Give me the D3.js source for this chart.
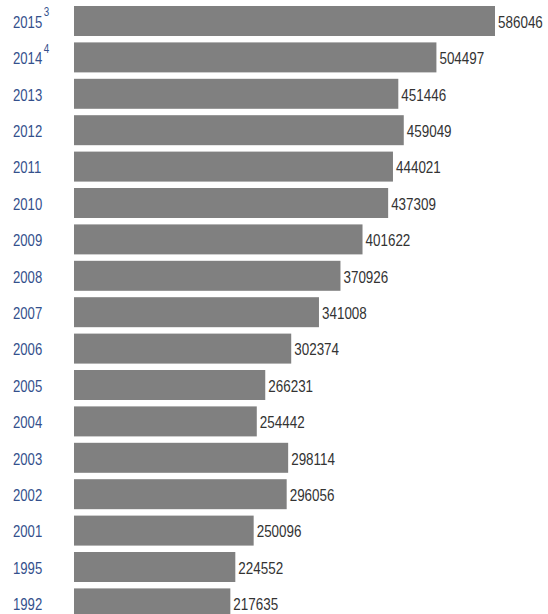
<!DOCTYPE html>
<html>
<head>
<meta charset="utf-8">
<script src="https://cdn.jsdelivr.net/npm/d3@7"></script>
<style>
  body { margin: 0; background: #fff; }
  text { font-family: Arial, "Liberation Sans", sans-serif; }
</style>
</head>
<body>
<svg width="548" height="614"></svg>
<script>
// Données
const years = ["2015", "2014", "2013", "2012", "2011", "2010", "2009", "2008", "2007",
               "2006", "2005", "2004", "2003", "2002", "2001", "1995", "1992"];
const notes = ["3", "4", "", "", "", "", "", "", "", "", "", "", "", "", "", "", ""];
const values = [586046, 504497, 451446, 459049, 444021, 437309, 401622, 370926, 341008,
                302374, 266231, 254442, 298114, 296056, 250096, 224552, 217635];

const data = years.map((y, i) => ({ year: y, note: notes[i], value: values[i] }));

const svg = d3.select("svg");

const x = d3.scaleLinear()
    .domain([0, 586046])
    .range([74, 495]);

const y = d3.scaleBand()
    .domain(years)
    .range([6, 618.4])
    .paddingInner(0.176)
    .paddingOuter(0);

const mid = d => y(d.year) + y.bandwidth() / 2 + 1;

svg.selectAll(".bar")
    .data(data)
    .join("rect")
    .attr("class", "bar")
    .attr("x", x(0))
    .attr("y", d => y(d.year))
    .attr("width", d => x(d.value) - x(0))
    .attr("height", y.bandwidth())
    .attr("fill", "#808080");

// valeurs (police un peu étroite comme dans l'original)
svg.selectAll(".val")
    .data(data)
    .join("text")
    .attr("class", "val")
    .attr("transform", d => `translate(${x(d.value) + 3},${mid(d)}) scale(0.84,1)`)
    .attr("dy", "0.36em")
    .attr("font-size", 16)
    .attr("fill", "#333")
    .text(d => d.value);

const lab = svg.selectAll(".year")
    .data(data)
    .join("text")
    .attr("class", "year")
    .attr("transform", d => `translate(13,${mid(d)}) scale(0.82,1)`)
    .attr("dy", "0.36em")
    .attr("font-size", 16)
    .attr("fill", "#34508c");

lab.append("tspan").text(d => d.year);
lab.filter(d => d.note)
    .append("tspan")
    .attr("font-size", 12)
    .attr("dx", 2)
    .attr("dy", "-0.95em")
    .text(d => d.note);
</script>
</body>
</html>
